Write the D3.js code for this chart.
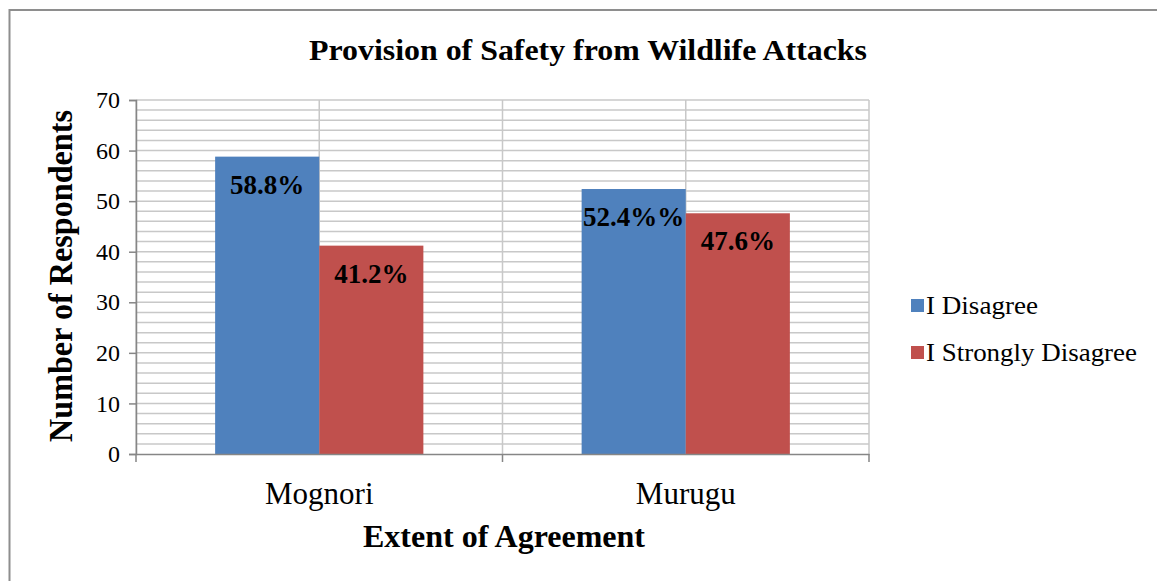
<!DOCTYPE html>
<html>
<head>
<meta charset="utf-8">
<script src="https://cdn.jsdelivr.net/npm/d3@7"></script>
<style>
  body { margin: 0; background: #fff; }
</style>
</head>
<body>
<div class="chart"></div>
<script>
const categories = ["Mognori", "Murugu"];
const seriesNames = ["I Disagree", "I Strongly Disagree"];
const disagree = [58.8, 52.4];
const stronglyDisagree = [41.2, 47.6];
const labels = [["58.8%", "52.4%%"], ["41.2%", "47.6%"]];
const yTicks = [0, 10, 20, 30, 40, 50, 60, 70];
const colors = ["#4F81BD", "#C0504D"];

const FONT = "'Liberation Serif'";
const W = 1157, H = 581;
const margin = ({top: 100, right: 288, bottom: 127, left: 136});
const width = W - margin.left - margin.right,
  height = H - margin.top - margin.bottom;

const svg = d3.select(".chart").append("svg")
  .attr("width", W)
  .attr("height", H)
  .style("font-family", FONT);

// outer chart border (runs off right and bottom)
svg.append("rect")
  .attr("x", 9.5).attr("y", 10)
  .attr("width", 1300).attr("height", 800)
  .attr("fill", "none")
  .attr("stroke", "#8e8e8e")
  .attr("stroke-width", 2);

const g = svg.append("g")
  .attr("transform", "translate(" + margin.left + "," + margin.top + ")");

const xScale = d3.scaleBand()
  .domain(categories)
  .range([0, width]);

const xInner = d3.scaleBand()
  .domain(seriesNames)
  .range([0, xScale.bandwidth()])
  .paddingOuter(0.76);

const yScale = d3.scaleLinear()
  .domain([0, 70])
  .range([height, 0]);

// minor horizontal gridlines every 2
g.append("g")
  .selectAll("line")
  .data(d3.range(2, 71, 2))
  .enter().append("line")
  .attr("x1", 0).attr("x2", width)
  .attr("y1", d => yScale(d)).attr("y2", d => yScale(d))
  .attr("stroke", "#c8c8c8")
  .attr("stroke-width", 1.5);

// vertical gridlines at category centres and edges
const vLines = [0, width, width / 2].concat(categories.map(c => xScale(c) + xScale.bandwidth() / 2));
g.append("g")
  .selectAll("line")
  .data(vLines)
  .enter().append("line")
  .attr("x1", d => d).attr("x2", d => d)
  .attr("y1", 0).attr("y2", height)
  .attr("stroke", "#c8c8c8")
  .attr("stroke-width", 1.5);

const rows = categories.map((c, i) => ({cat: c, values: [disagree[i], stronglyDisagree[i]]}));

const groups = g.selectAll(".group")
  .data(rows)
  .enter().append("g")
  .attr("transform", d => "translate(" + xScale(d.cat) + ",0)");

groups.selectAll("rect")
  .data((d, i) => d.values.map((v, j) => ({v: v, s: seriesNames[j], j: j, i: i})))
  .enter().append("rect")
  .attr("x", d => xInner(d.s))
  .attr("y", d => yScale(d.v))
  .attr("width", xInner.bandwidth())
  .attr("height", d => height - yScale(d.v))
  .attr("fill", d => colors[d.j]);

groups.selectAll(".lbl")
  .data((d, i) => d.values.map((v, j) => ({v: v, s: seriesNames[j], j: j, i: i})))
  .enter().append("text")
  .attr("class", "lbl")
  .attr("x", d => xInner(d.s) + xInner.bandwidth() / 2)
  .attr("y", d => yScale(d.v) + 37)
  .attr("text-anchor", "middle")
  .attr("font-weight", "bold")
  .attr("font-size", 27)
  .attr("fill", "#000")
  .style("font-family", FONT)
  .text(d => labels[d.j][d.i]);

// y axis
const yAxis = d3.axisLeft(yScale)
  .tickValues(yTicks)
  .tickSize(7)
  .tickPadding(9);
const ya = g.append("g")
  .attr("class", "axis y-axis")
  .call(yAxis)
  .attr("font-family", null);
ya.select(".domain").attr("stroke", "#868686").attr("stroke-width", 1.5);
ya.selectAll(".tick line").attr("stroke", "#868686").attr("stroke-width", 1.5);
ya.selectAll("text")
  .attr("font-size", 24)
  .attr("fill", "#000")
  .style("font-family", FONT);

// x axis
const xa = g.append("g")
  .attr("class", "axis x-axis")
  .attr("transform", `translate(0, ${height})`)
  .call(d3.axisBottom(xScale).tickSize(0).tickPadding(28))
  .attr("font-family", null);
xa.select(".domain").attr("stroke", "#868686").attr("stroke-width", 1.5);
xa.selectAll("text")
  .attr("font-size", 31)
  .attr("fill", "#000")
  .style("font-family", FONT);
xa.selectAll(".edge")
  .data([0, width / 2, width])
  .enter().append("line")
  .attr("x1", d => d).attr("x2", d => d)
  .attr("y1", 0).attr("y2", 8)
  .attr("stroke", "#868686")
  .attr("stroke-width", 1.5);

// titles
svg.append("text")
  .attr("x", 588).attr("y", 60)
  .attr("text-anchor", "middle")
  .attr("font-weight", "bold")
  .attr("font-size", 30)
  .attr("textLength", 558)
  .attr("lengthAdjust", "spacingAndGlyphs")
  .style("font-family", FONT)
  .text("Provision of Safety from Wildlife Attacks");

svg.append("text")
  .attr("x", 504).attr("y", 547)
  .attr("text-anchor", "middle")
  .attr("font-weight", "bold")
  .attr("font-size", 32)
  .attr("textLength", 282)
  .attr("lengthAdjust", "spacingAndGlyphs")
  .style("font-family", FONT)
  .text("Extent of Agreement");

svg.append("text")
  .attr("transform", "translate(72,276) rotate(-90)")
  .attr("text-anchor", "middle")
  .attr("font-weight", "bold")
  .attr("font-size", 34)
  .attr("textLength", 332)
  .attr("lengthAdjust", "spacingAndGlyphs")
  .style("font-family", FONT)
  .text("Number of Respondents");

// legend
const legend = svg.selectAll(".legend")
  .data(seriesNames)
  .enter().append("g")
  .attr("class", "legend")
  .attr("transform", (d, i) => "translate(911," + (306 + i * 47) + ")");

legend.append("rect")
  .attr("x", 0).attr("y", -7)
  .attr("width", 13).attr("height", 13)
  .attr("fill", (d, i) => colors[i]);

legend.append("text")
  .attr("x", 15)
  .attr("y", 8)
  .attr("font-size", 26)
  .attr("fill", "#000")
  .attr("textLength", (d, i) => i ? 211 : 112)
  .attr("lengthAdjust", "spacingAndGlyphs")
  .style("font-family", FONT)
  .text(d => d);
</script>
</body>
</html>
